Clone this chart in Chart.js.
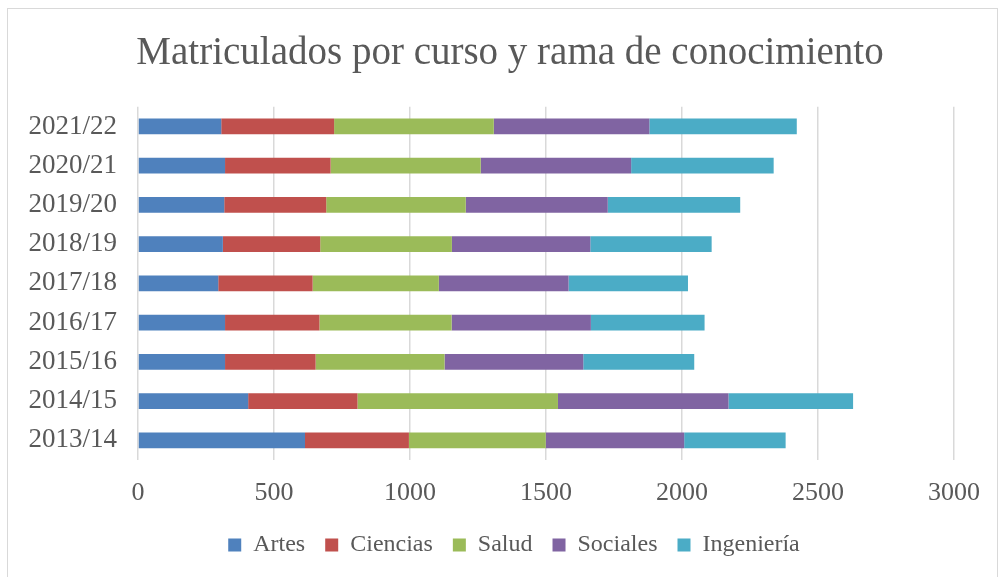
<!DOCTYPE html>
<html>
<head>
<meta charset="utf-8">
<script src="https://cdn.jsdelivr.net/npm/chart.js@4"></script>
<style>
  html, body { margin: 0; padding: 0; background: #fff; }
  #wrap { position: relative; width: 998px; height: 577px; overflow: hidden; }
  #frame { position: absolute; left: 7px; top: 8px; width: 989px; height: 600px; border: 1px solid #d9d9d9; }
  canvas { position: absolute; left: 0; top: 0; }
</style>
</head>
<body>
<div id="wrap">
  <div id="frame"></div>
  <canvas id="chart" width="998" height="577"></canvas>
</div>
<script>
// Data
const cursos = ["2013/14", "2014/15", "2015/16", "2016/17", "2017/18", "2018/19", "2019/20", "2020/21", "2021/22"];
const artes      = [614, 405, 320, 320, 295, 312, 317, 320, 306];
const ciencias   = [382, 402, 333, 347, 347, 358, 375, 388, 415];
const salud      = [503, 737, 474, 486, 464, 484, 513, 552, 587];
const sociales   = [509, 627, 510, 512, 477, 509, 522, 553, 572];
const ingenieria = [373, 458, 408, 418, 439, 446, 487, 524, 542];
const xTicks = [0, 500, 1000, 1500, 2000, 2500, 3000];

const serif = "'Liberation Serif', 'DejaVu Serif', serif";
const textColor = "#595959";

function serie(label, data, color) {
  return {
    label: label,
    data: data,
    backgroundColor: color,
    borderWidth: 0,
    barPercentage: 0.4,
    categoryPercentage: 1,
  };
}

// title and legend are centred on the whole frame, not on the plot box
function moveTo(box, centre) {
  if (!box) return;
  const shift = centre - (box.left + box.right) / 2;
  box.left += shift;
  box.right += shift;
}
const centreOnFrame = {
  id: "centreOnFrame",
  afterLayout(chart) {
    moveTo(chart.titleBlock, 510);
    moveTo(chart.legend, 514);
  },
};

const ctx = document.getElementById("chart").getContext("2d");
new Chart(ctx, {
  type: "bar",
  data: {
    labels: cursos,
    datasets: [
      serie("Artes", artes, "#4F81BD"),
      serie("Ciencias", ciencias, "#C0504D"),
      serie("Salud", salud, "#9BBB59"),
      serie("Sociales", sociales, "#8064A2"),
      serie("Ingeniería", ingenieria, "#4BACC6"),
    ],
  },
  plugins: [centreOnFrame],
  options: {
    indexAxis: "y",
    responsive: false,
    animation: false,
    layout: { padding: { left: 0, right: 41, top: 0, bottom: 10 } },
    plugins: {
      title: {
        display: true,
        text: "Matriculados por curso y rama de conocimiento",
        color: textColor,
        font: { family: serif, size: 39, weight: "normal" },
        padding: { top: 30, bottom: 30 },
      },
      legend: {
        position: "bottom",
        labels: {
          color: textColor,
          font: { family: serif, size: 24 },
          boxWidth: 13,
          boxHeight: 13,
          padding: 20,
        },
      },
      tooltip: { enabled: false },
    },
    scales: {
      x: {
        stacked: true,
        min: 0,
        max: 3000,
        afterBuildTicks: (scale) => {
          scale.ticks = xTicks.map((v) => ({ value: v }));
        },
        afterFit: (scale) => { scale.height = 53; },
        grid: { color: "#d9d9d9", lineWidth: 1.5, drawTicks: false },
        border: { display: false },
        ticks: {
          color: textColor,
          font: { family: serif, size: 26 },
          padding: 18,
          callback: (v) => String(v),
        },
      },
      y: {
        stacked: true,
        reverse: true,
        afterFit: (scale) => { scale.width = 138; },
        grid: { display: false },
        border: { display: false },
        ticks: {
          color: textColor,
          font: { family: serif, size: 27 },
          padding: 13,
        },
      },
    },
  },
});
</script>
</body>
</html>
